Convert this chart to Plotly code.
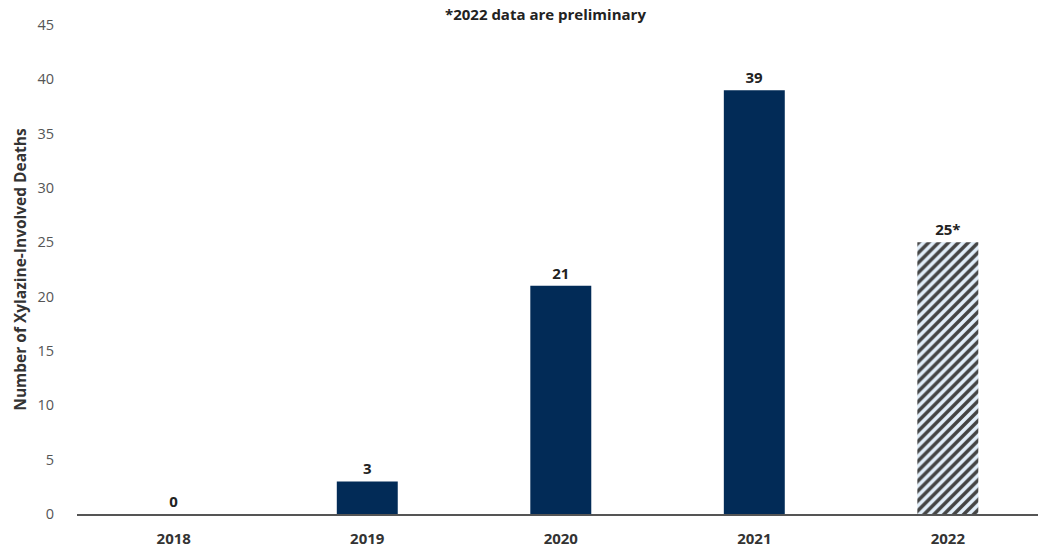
import plotly.graph_objects as go

years = ["2018", "2019", "2020", "2021", "2022"]
deaths = [0, 3, 21, 39, 25]
labels = ["0", "3", "21", "39", "25*"]
y_ticks = [0, 5, 10, 15, 20, 25, 30, 35, 40, 45]

navy = "#022b57"
shapes_pat = ["", "", "", "", "/"]
colors = [navy, navy, navy, navy, "#e2effb"]

fig = go.Figure()
fig.add_trace(go.Bar(
    x=years, y=deaths, text=labels, textposition="outside",
    texttemplate="%{text}",
    textfont=dict(family="Open Sans", size=15, color="#222222", weight="bold"),
    cliponaxis=False,
    width=0.315,
    marker=dict(color=colors, line=dict(width=0),
                pattern=dict(shape=shapes_pat, fgcolor="#0a2848", fgopacity=1,
                             size=7, solidity=0.5)),
))

fig.update_layout(
    width=1038, height=550,
    margin=dict(l=77, r=0, t=25, b=36),
    plot_bgcolor="white", paper_bgcolor="white",
    showlegend=False,
    font=dict(family="Open Sans"),
)

fig.add_annotation(text="<b>*2022 data are preliminary</b>", xref="paper", yref="paper",
                   x=0.487, y=1.0, yshift=11, yanchor="middle", showarrow=False,
                   font=dict(size=15, color="#222222"))

fig.update_xaxes(
    range=[-0.5, 4.466], showline=True, linecolor="#555555", linewidth=1.5,
    showgrid=False, ticks="", ticklabelstandoff=10,
    tickfont=dict(size=15, color="#333333", weight="bold"),
)
fig.update_yaxes(
    range=[0, 45], tickvals=y_ticks, showgrid=False, zeroline=False,
    showline=False, ticks="", ticklabelstandoff=22,
    tickfont=dict(size=14.5, color="#555555"),
    title=dict(text="<b>Number of Xylazine-Involved Deaths</b>", standoff=6,
               font=dict(size=15.5, color="#333333")),
)

fig.write_html("out.html")
